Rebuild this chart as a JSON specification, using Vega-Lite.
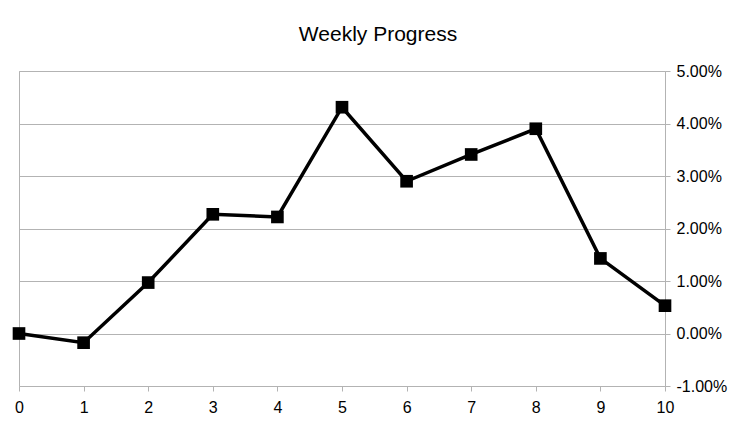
{
  "$schema": "https://vega.github.io/schema/vega-lite/v6.json",
  "description": "Weekly progress line chart with square markers.",
  "background": "#ffffff",
  "autosize": {"type": "none"},
  "padding": {"left": 19, "top": 71, "right": 91, "bottom": 40},
  "width": 646,
  "height": 315,
  "title": {
    "text": "Weekly Progress",
    "font": "Liberation Sans",
    "fontSize": 21,
    "fontWeight": "normal",
    "color": "#000000",
    "anchor": "middle",
    "dx": 36,
    "offset": 18
  },
  "data": {
    "values": [
      {"week": 0, "progress": 0.0},
      {"week": 1, "progress": -0.00175},
      {"week": 2, "progress": 0.0097},
      {"week": 3, "progress": 0.0227},
      {"week": 4, "progress": 0.0222},
      {"week": 5, "progress": 0.0431},
      {"week": 6, "progress": 0.029},
      {"week": 7, "progress": 0.0341},
      {"week": 8, "progress": 0.039},
      {"week": 9, "progress": 0.0143},
      {"week": 10, "progress": 0.0053}
    ]
  },
  "encoding": {
    "x": {
      "field": "week",
      "type": "quantitative",
      "scale": {"domain": [0, 10], "nice": false, "zero": false},
      "axis": {
        "title": null,
        "values": [0, 1, 2, 3, 4, 5, 6, 7, 8, 9, 10],
        "grid": false,
        "domain": false,
        "labelFlush": false,
        "tickColor": "#b3b3b3",
        "tickSize": 5,
        "labelPadding": 8,
        "labelFont": "Liberation Sans",
        "labelFontSize": 16,
        "labelColor": "#000000"
      }
    },
    "y": {
      "field": "progress",
      "type": "quantitative",
      "scale": {"domain": [-0.01, 0.05], "nice": false, "zero": false},
      "axis": {
        "title": null,
        "orient": "right",
        "format": ".2%",
        "labelExpr": "replace(datum.label, '\u2212', '-')",
        "values": [-0.01, 0, 0.01, 0.02, 0.03, 0.04, 0.05],
        "grid": true,
        "gridColor": "#b3b3b3",
        "domain": false,
        "tickColor": "#b3b3b3",
        "tickSize": 5,
        "labelPadding": 6,
        "labelFont": "Liberation Sans",
        "labelFontSize": 16,
        "labelColor": "#000000"
      }
    }
  },
  "layer": [
    {
      "mark": {"type": "line", "color": "#000000", "strokeWidth": 3.5}
    },
    {
      "mark": {"type": "point", "shape": "square", "filled": true, "color": "#000000", "opacity": 1, "size": 160}
    }
  ],
  "config": {
    "view": {"stroke": "#b3b3b3", "strokeWidth": 1}
  }
}
